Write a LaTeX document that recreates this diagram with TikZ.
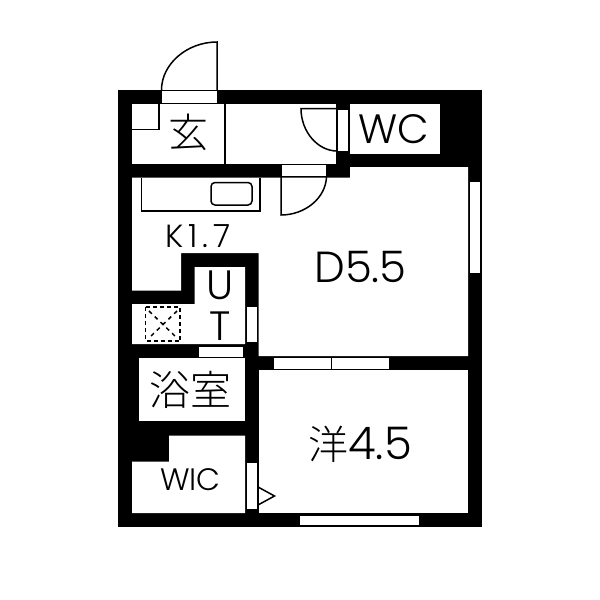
\documentclass[tikz,border=0pt]{standalone}
\usepackage{fontspec}
\setmainfont{Poppins Light}
\newfontfamily\cjk{Noto Sans CJK JP Light}
\tikzset{
  x=1pt,y=-1pt,
  wall/.style={fill=black,draw=none},
  room/.style={fill=white,draw=none},
  opening/.style={fill=white,draw=black,line width=1pt},
  fine/.style={draw=black,line width=1.2pt},
  door/.style={draw=black,line width=1.5pt},
  lab/.style={inner sep=0pt,text=black},
}
\newcommand{\lbl}[1]{\fontsize{#1}{#1}\selectfont}
\begin{document}
\begin{tikzpicture}
\useasboundingbox (0,0) rectangle (600,600);
\fill[white] (0,0) rectangle (600,600);
\path[wall] (118,90) rectangle (482,527);
% rooms
\path[room] (132,103.5) rectangle (336,164);
\path[room] (350,103.5) rectangle (440,153.5);
\path[room] (132,177.5) -- (350,177.5) -- (350,167) -- (468,167) -- (468,356) -- (258.5,356) -- (258.5,253) -- (181,253) -- (181,290.5) -- (132,290.5) -- cycle;
\path[room] (194.5,267) -- (245,267) -- (245,344) -- (132,344) -- (132,304) -- (194.5,304) -- cycle;
\path[room] (139,358) rectangle (245,421);
\path[room] (169,435.5) -- (245,435.5) -- (245,513) -- (132,513) -- (132,461.5) -- (169,461.5) -- cycle;
\path[room] (258.5,370) rectangle (468,513);
% openings
\path[opening] (161.5,90.5) rectangle (217,103.5);
\path[opening] (337,109) rectangle (348.5,151);
\path[opening] (281,164) rectangle (326.5,176.5);
\path[opening] (469,181) rectangle (480.5,273);
\path[opening] (246.5,306) rectangle (257.5,342.5);
\path[opening] (198,346) rectangle (243,357);
\path[opening] (273,357.5) rectangle (331,369);
\path[opening] (331,357.5) rectangle (389.5,369);
\path[opening] (299.5,515) rectangle (419,525.5);
\path[opening] (246.5,462) rectangle (257.5,509);
% doors
\draw[door] (217,90) -- (217,42) .. controls (187,42) and (161.5,64) .. (161.5,90);
\draw[door] (337,108.5) -- (301,108.5) .. controls (301,132) and (318,151) .. (337,151);
\draw[door] (281,176.5) -- (281,215) .. controls (305,215) and (326,198) .. (326.5,176.5);
\draw[door] (258,487) -- (274.5,496) -- (258,505);
% fixtures
\draw[fine] (132,129.5) -- (159,129.5) -- (159,103.5);
\draw[fine] (225,103.5) -- (225,164);
\draw[fine] (141.5,177.5) -- (141.5,211) -- (260,211) -- (260,177.5);
\draw[door,rounded corners=4pt] (211,182.5) rectangle (252,205);
\draw[black,line width=1.7pt,dash pattern=on 4pt off 3pt] (145.5,307) rectangle (180,341);
\draw[black,line width=1.5pt,dash pattern=on 4pt off 4pt] (149,311) -- (177,338);
\draw[black,line width=1.5pt,dash pattern=on 4pt off 4pt] (177,311) -- (149,338);
% labels
\node[lab] (genkan) at (188,132) {\cjk\lbl{40}玄};
\node[lab] (wc) at (394,129) {\lbl{41}WC};
\node[lab] (k) at (198,236) {\lbl{32}K\kern5pt 1\kern5pt .\kern5pt 7};
\node[lab] (d) at (360.5,267) {\lbl{43.5}D5.5};
\node[lab] (u) at (220,285) {\lbl{41}U};
\node[lab] (t) at (220,326) {\lbl{41}T};
\node[lab] (bath) at (190,390) {\cjk\lbl{41}浴室};
\node[lab] (wic) at (190.5,480) {\lbl{31}WIC};
\node[lab] (yo) at (360,444) {\lbl{45}{\cjk\lbl{40}洋}4.5};
\end{tikzpicture}
\end{document}
